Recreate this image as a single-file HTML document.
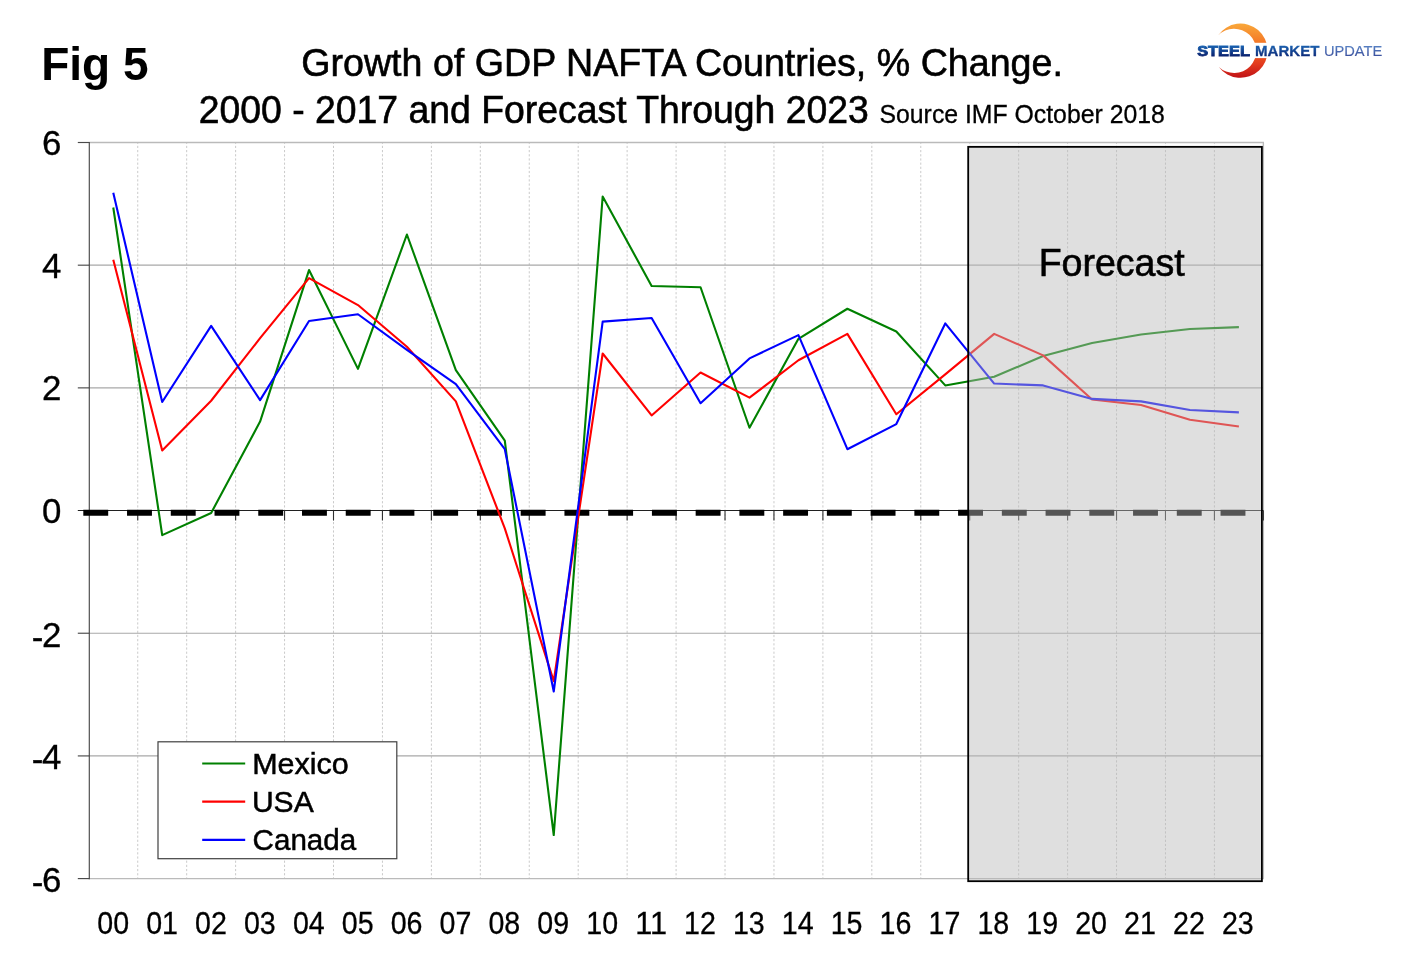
<!DOCTYPE html>
<html lang="en"><head><meta charset="utf-8"><title>Fig 5 - Growth of GDP NAFTA Countries</title>
<style>html,body{margin:0;padding:0;background:#fff;}body{width:1420px;height:971px;overflow:hidden;}svg{display:block;}text{font-family:"Liberation Sans", Arial, Helvetica, sans-serif;}</style>
</head><body>
<svg width="1420" height="971" viewBox="0 0 1420 971">
<defs>
<linearGradient id="cres" x1="0" y1="0" x2="0" y2="1"><stop offset="0" stop-color="#f9a83a"/><stop offset="0.45" stop-color="#f26a22"/><stop offset="0.75" stop-color="#e23a1e"/><stop offset="1" stop-color="#c01216"/></linearGradient>
<linearGradient id="steel" gradientUnits="userSpaceOnUse" x1="0" y1="44.5" x2="0" y2="56.5"><stop offset="0" stop-color="#1868b8"/><stop offset="1" stop-color="#0a1f6c"/></linearGradient>
<linearGradient id="market" gradientUnits="userSpaceOnUse" x1="0" y1="44.5" x2="0" y2="56.5"><stop offset="0" stop-color="#1c66b4"/><stop offset="1" stop-color="#0e2a78"/></linearGradient>
<linearGradient id="update" gradientUnits="userSpaceOnUse" x1="0" y1="44.5" x2="0" y2="56.5"><stop offset="0" stop-color="#5a86c8"/><stop offset="1" stop-color="#3a4f9c"/></linearGradient>
</defs>
<rect x="0" y="0" width="1420" height="971" fill="#ffffff"/>
<g id="grid">
<line x1="137.74" y1="142.50" x2="137.74" y2="878.60" stroke="#cacaca" stroke-width="1.0" stroke-dasharray="2.2 1.98" stroke-dashoffset="0.85"/>
<line x1="186.68" y1="142.50" x2="186.68" y2="878.60" stroke="#cacaca" stroke-width="1.0" stroke-dasharray="2.2 1.98" stroke-dashoffset="0.85"/>
<line x1="235.62" y1="142.50" x2="235.62" y2="878.60" stroke="#cacaca" stroke-width="1.0" stroke-dasharray="2.2 1.98" stroke-dashoffset="0.85"/>
<line x1="284.56" y1="142.50" x2="284.56" y2="878.60" stroke="#cacaca" stroke-width="1.0" stroke-dasharray="2.2 1.98" stroke-dashoffset="0.85"/>
<line x1="333.50" y1="142.50" x2="333.50" y2="878.60" stroke="#cacaca" stroke-width="1.0" stroke-dasharray="2.2 1.98" stroke-dashoffset="0.85"/>
<line x1="382.44" y1="142.50" x2="382.44" y2="878.60" stroke="#cacaca" stroke-width="1.0" stroke-dasharray="2.2 1.98" stroke-dashoffset="0.85"/>
<line x1="431.38" y1="142.50" x2="431.38" y2="878.60" stroke="#cacaca" stroke-width="1.0" stroke-dasharray="2.2 1.98" stroke-dashoffset="0.85"/>
<line x1="480.32" y1="142.50" x2="480.32" y2="878.60" stroke="#cacaca" stroke-width="1.0" stroke-dasharray="2.2 1.98" stroke-dashoffset="0.85"/>
<line x1="529.26" y1="142.50" x2="529.26" y2="878.60" stroke="#cacaca" stroke-width="1.0" stroke-dasharray="2.2 1.98" stroke-dashoffset="0.85"/>
<line x1="578.20" y1="142.50" x2="578.20" y2="878.60" stroke="#cacaca" stroke-width="1.0" stroke-dasharray="2.2 1.98" stroke-dashoffset="0.85"/>
<line x1="627.14" y1="142.50" x2="627.14" y2="878.60" stroke="#cacaca" stroke-width="1.0" stroke-dasharray="2.2 1.98" stroke-dashoffset="0.85"/>
<line x1="676.08" y1="142.50" x2="676.08" y2="878.60" stroke="#cacaca" stroke-width="1.0" stroke-dasharray="2.2 1.98" stroke-dashoffset="0.85"/>
<line x1="725.02" y1="142.50" x2="725.02" y2="878.60" stroke="#cacaca" stroke-width="1.0" stroke-dasharray="2.2 1.98" stroke-dashoffset="0.85"/>
<line x1="773.96" y1="142.50" x2="773.96" y2="878.60" stroke="#cacaca" stroke-width="1.0" stroke-dasharray="2.2 1.98" stroke-dashoffset="0.85"/>
<line x1="822.90" y1="142.50" x2="822.90" y2="878.60" stroke="#cacaca" stroke-width="1.0" stroke-dasharray="2.2 1.98" stroke-dashoffset="0.85"/>
<line x1="871.84" y1="142.50" x2="871.84" y2="878.60" stroke="#cacaca" stroke-width="1.0" stroke-dasharray="2.2 1.98" stroke-dashoffset="0.85"/>
<line x1="920.78" y1="142.50" x2="920.78" y2="878.60" stroke="#cacaca" stroke-width="1.0" stroke-dasharray="2.2 1.98" stroke-dashoffset="0.85"/>
<line x1="969.72" y1="142.50" x2="969.72" y2="146.00" stroke="#cacaca" stroke-width="1.0" stroke-dasharray="2.2 1.98" stroke-dashoffset="0.85"/>
<line x1="1018.66" y1="142.50" x2="1018.66" y2="878.60" stroke="#cacaca" stroke-width="1.0" stroke-dasharray="2.2 1.98" stroke-dashoffset="0.85"/>
<line x1="1067.60" y1="142.50" x2="1067.60" y2="878.60" stroke="#cacaca" stroke-width="1.0" stroke-dasharray="2.2 1.98" stroke-dashoffset="0.85"/>
<line x1="1116.54" y1="142.50" x2="1116.54" y2="878.60" stroke="#cacaca" stroke-width="1.0" stroke-dasharray="2.2 1.98" stroke-dashoffset="0.85"/>
<line x1="1165.48" y1="142.50" x2="1165.48" y2="878.60" stroke="#cacaca" stroke-width="1.0" stroke-dasharray="2.2 1.98" stroke-dashoffset="0.85"/>
<line x1="1214.42" y1="142.50" x2="1214.42" y2="878.60" stroke="#cacaca" stroke-width="1.0" stroke-dasharray="2.2 1.98" stroke-dashoffset="0.85"/>
<line x1="88.80" y1="265.18" x2="1263.36" y2="265.18" stroke="#a8a8a8" stroke-width="1.2"/>
<line x1="88.80" y1="387.87" x2="1263.36" y2="387.87" stroke="#a8a8a8" stroke-width="1.2"/>
<line x1="88.80" y1="633.23" x2="1263.36" y2="633.23" stroke="#a8a8a8" stroke-width="1.2"/>
<line x1="88.80" y1="755.92" x2="1263.36" y2="755.92" stroke="#a8a8a8" stroke-width="1.2"/>
<line x1="88.80" y1="142.50" x2="1263.96" y2="142.50" stroke="#bababa" stroke-width="1.4"/>
<line x1="88.80" y1="878.60" x2="1263.96" y2="878.60" stroke="#bababa" stroke-width="1.4"/>
<line x1="1263.36" y1="142.50" x2="1263.36" y2="878.60" stroke="#bababa" stroke-width="1.4"/>
</g>
<g id="axes" stroke="#4a4a4a" stroke-width="1.15">
<line x1="89.30" y1="141.90" x2="89.30" y2="879.20"/>
<line x1="77.80" y1="142.50" x2="89.30" y2="142.50"/>
<line x1="77.80" y1="265.18" x2="89.30" y2="265.18"/>
<line x1="77.80" y1="387.87" x2="89.30" y2="387.87"/>
<line x1="77.80" y1="633.23" x2="89.30" y2="633.23"/>
<line x1="77.80" y1="755.92" x2="89.30" y2="755.92"/>
<line x1="77.80" y1="878.60" x2="89.30" y2="878.60"/>
</g>
<g id="zero">
<line x1="77.80" y1="510.55" x2="1263.36" y2="510.55" stroke="#202020" stroke-width="1.05"/>
<line x1="137.74" y1="510.55" x2="137.74" y2="520.55" stroke="#303030" stroke-width="1.1"/>
<line x1="186.68" y1="510.55" x2="186.68" y2="520.55" stroke="#303030" stroke-width="1.1"/>
<line x1="235.62" y1="510.55" x2="235.62" y2="520.55" stroke="#303030" stroke-width="1.1"/>
<line x1="284.56" y1="510.55" x2="284.56" y2="520.55" stroke="#303030" stroke-width="1.1"/>
<line x1="333.50" y1="510.55" x2="333.50" y2="520.55" stroke="#303030" stroke-width="1.1"/>
<line x1="382.44" y1="510.55" x2="382.44" y2="520.55" stroke="#303030" stroke-width="1.1"/>
<line x1="431.38" y1="510.55" x2="431.38" y2="520.55" stroke="#303030" stroke-width="1.1"/>
<line x1="480.32" y1="510.55" x2="480.32" y2="520.55" stroke="#303030" stroke-width="1.1"/>
<line x1="529.26" y1="510.55" x2="529.26" y2="520.55" stroke="#303030" stroke-width="1.1"/>
<line x1="578.20" y1="510.55" x2="578.20" y2="520.55" stroke="#303030" stroke-width="1.1"/>
<line x1="627.14" y1="510.55" x2="627.14" y2="520.55" stroke="#303030" stroke-width="1.1"/>
<line x1="676.08" y1="510.55" x2="676.08" y2="520.55" stroke="#303030" stroke-width="1.1"/>
<line x1="725.02" y1="510.55" x2="725.02" y2="520.55" stroke="#303030" stroke-width="1.1"/>
<line x1="773.96" y1="510.55" x2="773.96" y2="520.55" stroke="#303030" stroke-width="1.1"/>
<line x1="822.90" y1="510.55" x2="822.90" y2="520.55" stroke="#303030" stroke-width="1.1"/>
<line x1="871.84" y1="510.55" x2="871.84" y2="520.55" stroke="#303030" stroke-width="1.1"/>
<line x1="920.78" y1="510.55" x2="920.78" y2="520.55" stroke="#303030" stroke-width="1.1"/>
<line x1="969.72" y1="510.55" x2="969.72" y2="520.55" stroke="#303030" stroke-width="1.1"/>
<line x1="1018.66" y1="510.55" x2="1018.66" y2="520.55" stroke="#303030" stroke-width="1.1"/>
<line x1="1067.60" y1="510.55" x2="1067.60" y2="520.55" stroke="#303030" stroke-width="1.1"/>
<line x1="1116.54" y1="510.55" x2="1116.54" y2="520.55" stroke="#303030" stroke-width="1.1"/>
<line x1="1165.48" y1="510.55" x2="1165.48" y2="520.55" stroke="#303030" stroke-width="1.1"/>
<line x1="1214.42" y1="510.55" x2="1214.42" y2="520.55" stroke="#303030" stroke-width="1.1"/>
<line x1="1263.36" y1="510.55" x2="1263.36" y2="520.55" stroke="#303030" stroke-width="1.1"/>
<line x1="83.3" y1="512.75" x2="1263.36" y2="512.75" stroke="#000" stroke-width="6.2" stroke-dasharray="24.9 18.84"/>
</g>
<g id="series">
<polyline points="113.27,207.52 162.21,535.09 211.15,513.00 260.09,421.60 309.03,270.09 357.97,368.85 406.91,234.51 455.85,370.08 504.79,440.62 553.73,835.05 602.67,196.48 651.61,286.04 700.55,287.27 749.49,427.74 798.43,338.79 847.37,308.74 896.31,331.43 945.25,385.41 994.19,376.83 1043.13,355.97 1092.07,343.09 1141.01,334.50 1189.95,328.98 1238.89,327.14" fill="none" stroke="#008000" stroke-width="2.1" stroke-linejoin="round" stroke-linecap="butt"/>
<polyline points="113.27,259.66 162.21,450.44 211.15,400.75 260.09,338.18 309.03,278.07 357.97,305.06 406.91,346.77 455.85,401.36 504.79,528.34 553.73,681.08 602.67,353.52 651.61,415.47 700.55,372.53 749.49,397.68 798.43,360.26 847.37,333.89 896.31,414.24 945.25,374.37 994.19,333.89 1043.13,355.36 1092.07,399.52 1141.01,405.04 1189.95,419.76 1238.89,426.51" fill="none" stroke="#ff0000" stroke-width="2.1" stroke-linejoin="round" stroke-linecap="butt"/>
<polyline points="113.27,192.80 162.21,401.98 211.15,325.91 260.09,400.13 309.03,321.00 357.97,314.26 406.91,349.83 455.85,384.19 504.79,449.21 553.73,691.51 602.67,321.62 651.61,317.94 700.55,403.20 749.49,358.42 798.43,335.11 847.37,449.21 896.31,424.06 945.25,323.46 994.19,383.57 1043.13,385.41 1092.07,398.91 1141.01,401.36 1189.95,409.95 1238.89,412.40" fill="none" stroke="#0000ff" stroke-width="2.1" stroke-linejoin="round" stroke-linecap="butt"/>
</g>
<rect x="968.20" y="146.85" width="293.70" height="734.35" fill="#b9b9b9" fill-opacity="0.46" stroke="#000" stroke-width="1.8"/>
<text x="1038.7" y="276.4" font-size="38" textLength="146" lengthAdjust="spacingAndGlyphs" fill="#000" stroke="#000" stroke-width="0.6">Forecast</text>
<g id="legend">
<rect x="158.0" y="741.8" width="238.8" height="116.9" fill="#fff" stroke="#404040" stroke-width="1.2"/>
<line x1="202.2" y1="763.50" x2="245.2" y2="763.50" stroke="#008000" stroke-width="2.2"/>
<text x="252.20" y="774.00" font-size="30.4" textLength="96.6" lengthAdjust="spacingAndGlyphs" fill="#000" stroke="#000" stroke-width="0.5">Mexico</text>
<line x1="202.2" y1="801.70" x2="245.2" y2="801.70" stroke="#ff0000" stroke-width="2.2"/>
<text x="251.90" y="811.90" font-size="30.4" textLength="61.8" lengthAdjust="spacingAndGlyphs" fill="#000" stroke="#000" stroke-width="0.5">USA</text>
<line x1="202.2" y1="839.90" x2="245.2" y2="839.90" stroke="#0000ff" stroke-width="2.2"/>
<text x="252.60" y="850.30" font-size="30.4" textLength="103.6" lengthAdjust="spacingAndGlyphs" fill="#000" stroke="#000" stroke-width="0.5">Canada</text>
</g>
<g id="ylabels" font-size="34.2" text-anchor="end" fill="#000" stroke="#000" stroke-width="0.3">
<text transform="translate(61.5,155) scale(1.020,1)" x="0" y="0">6</text>
<text transform="translate(61.5,278) scale(1.020,1)" x="0" y="0">4</text>
<text transform="translate(61.5,400) scale(1.020,1)" x="0" y="0">2</text>
<text transform="translate(61.5,523) scale(1.020,1)" x="0" y="0">0</text>
<text transform="translate(61.5,647) scale(1.020,1)" x="0" y="0"><tspan dy="2.0">-</tspan><tspan dy="-2.0" dx="-1.3">2</tspan></text>
<text transform="translate(61.5,769) scale(1.020,1)" x="0" y="0"><tspan dy="2.0">-</tspan><tspan dy="-2.0" dx="-1.3">4</tspan></text>
<text transform="translate(61.5,892) scale(1.020,1)" x="0" y="0"><tspan dy="2.0">-</tspan><tspan dy="-2.0" dx="-1.3">6</tspan></text>
</g>
<g id="xlabels" font-size="30.6" text-anchor="middle" fill="#000" stroke="#000" stroke-width="0.3">
<text x="113.20" y="934" textLength="31.8" lengthAdjust="spacingAndGlyphs">00</text>
<text x="162.09" y="934" textLength="31.8" lengthAdjust="spacingAndGlyphs">01</text>
<text x="210.99" y="934" textLength="31.8" lengthAdjust="spacingAndGlyphs">02</text>
<text x="259.88" y="934" textLength="31.8" lengthAdjust="spacingAndGlyphs">03</text>
<text x="308.78" y="934" textLength="31.8" lengthAdjust="spacingAndGlyphs">04</text>
<text x="357.68" y="934" textLength="31.8" lengthAdjust="spacingAndGlyphs">05</text>
<text x="406.57" y="934" textLength="31.8" lengthAdjust="spacingAndGlyphs">06</text>
<text x="455.47" y="934" textLength="31.8" lengthAdjust="spacingAndGlyphs">07</text>
<text x="504.36" y="934" textLength="31.8" lengthAdjust="spacingAndGlyphs">08</text>
<text x="553.25" y="934" textLength="31.8" lengthAdjust="spacingAndGlyphs">09</text>
<text x="602.15" y="934" textLength="31.8" lengthAdjust="spacingAndGlyphs">10</text>
<text x="651.05" y="934" textLength="31.8" lengthAdjust="spacingAndGlyphs">11</text>
<text x="699.94" y="934" textLength="31.8" lengthAdjust="spacingAndGlyphs">12</text>
<text x="748.84" y="934" textLength="31.8" lengthAdjust="spacingAndGlyphs">13</text>
<text x="797.73" y="934" textLength="31.8" lengthAdjust="spacingAndGlyphs">14</text>
<text x="846.63" y="934" textLength="31.8" lengthAdjust="spacingAndGlyphs">15</text>
<text x="895.52" y="934" textLength="31.8" lengthAdjust="spacingAndGlyphs">16</text>
<text x="944.42" y="934" textLength="31.8" lengthAdjust="spacingAndGlyphs">17</text>
<text x="993.31" y="934" textLength="31.8" lengthAdjust="spacingAndGlyphs">18</text>
<text x="1042.21" y="934" textLength="31.8" lengthAdjust="spacingAndGlyphs">19</text>
<text x="1091.10" y="934" textLength="31.8" lengthAdjust="spacingAndGlyphs">20</text>
<text x="1140.00" y="934" textLength="31.8" lengthAdjust="spacingAndGlyphs">21</text>
<text x="1188.89" y="934" textLength="31.8" lengthAdjust="spacingAndGlyphs">22</text>
<text x="1237.79" y="934" textLength="31.8" lengthAdjust="spacingAndGlyphs">23</text>
</g>
<text x="41.2" y="79.9" font-size="46" font-weight="bold" fill="#000">Fig 5</text>
<g fill="#000" stroke="#000" stroke-width="0.6">
<text x="301.25" y="76.2" font-size="38.5" textLength="761.6" lengthAdjust="spacingAndGlyphs">Growth of GDP NAFTA Countries, % Change.</text>
<text x="198.7" y="123" font-size="38.5" textLength="670.2" lengthAdjust="spacingAndGlyphs">2000 - 2017 and Forecast Through 2023</text>
<text x="879.5" y="123" font-size="26" textLength="285.3" lengthAdjust="spacingAndGlyphs" stroke-width="0.3">Source IMF October 2018</text>
</g>
<g id="logo">
<path fill="url(#cres)" d="M1218.07,35.49 A27.10,27.10 0 1,1 1218.81,66.94 A22.20,22.20 0 1,0 1218.07,35.49 Z"/>
<rect x="1205" y="42.8" width="70" height="15.3" fill="#fff"/>
<text x="1197.2" y="55.9" font-size="15.1" font-weight="bold" fill="url(#steel)" stroke="url(#steel)" stroke-width="0.85" textLength="52.7" lengthAdjust="spacingAndGlyphs">STEEL</text>
<text x="1255.0" y="56.0" font-size="15.2" font-weight="bold" fill="url(#market)" stroke="url(#market)" stroke-width="0.3" textLength="64.4" lengthAdjust="spacingAndGlyphs">MARKET</text>
<text x="1323.9" y="56.0" font-size="15.0" fill="url(#update)" stroke="url(#update)" stroke-width="0.15" textLength="58.3" lengthAdjust="spacingAndGlyphs">UPDATE</text>
</g>
</svg>
</body></html>
